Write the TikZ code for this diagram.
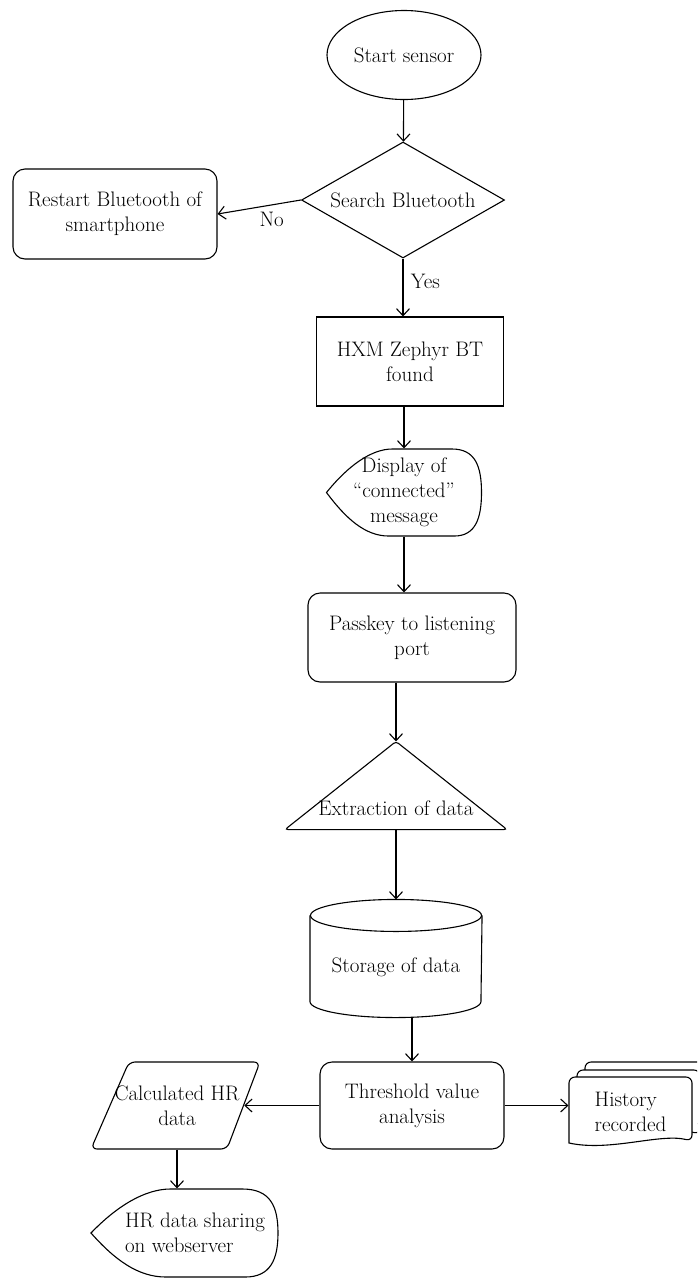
\documentclass[tikz,border=0pt]{standalone}
\usetikzlibrary{shapes.geometric, arrows.meta, calc, backgrounds}
\tikzset{
        startstop/.style={ellipse, draw, minimum width=154pt, minimum height=89pt, inner sep=0pt},
        decision/.style={diamond, draw, aspect=1.75, minimum width=203pt, minimum height=116pt, inner sep=0pt},
        block/.style={rectangle, draw, align=center, inner sep=2pt},
        roundblock/.style={block, rounded corners=12pt},
        shapebox/.style={rectangle, align=center, inner sep=0pt},
        arrow/.style={-{Straight Barb[length=7pt,width=13pt]}},
    }
% outline of a display symbol round a node: [x offset], name, half width, half height
\newcommand{\displayoutline}[4][0]{%
    \draw[shift={(#2.center)}, xshift=#1pt, x=#3pt, y=-#4pt]
        (-1,0) .. controls (-0.72,-0.62) and (-0.42,-1) .. (-0.15,-1) -- (0.62,-1)
        .. controls (0.92,-1) and (1,-0.6) .. (1,0)
        .. controls (1,0.6) and (0.92,1) .. (0.65,1) -- (-0.2,1)
        .. controls (-0.5,1) and (-0.75,0.6) .. (-1,0) -- cycle;}
% one page of the document stack, shifted from the history node
\newcommand{\docpage}[2]{%
    \draw[fill=white, line width=1.1pt, rounded corners=6pt, shift={(history.center)}, shift={(#1,#2)}]
        (-61.5,31) -- (-61.5,-35) -- (61.5,-35) -- (61.5,29)
        [sharp corners] .. controls (29.5,21) and (-20.5,40) .. (-61.5,31) -- cycle;}

\begin{document}
\begin{tikzpicture}[x=1pt, y=-1pt, line width=1.1pt, font=\fontsize{21}{25}\selectfont]
        \useasboundingbox (0,0) rectangle (697,1278);
        \clip (0,0) rectangle (697,1278);

        % START
        \node[startstop] (start) at (404,55) {Start sensor};

        % SEARCH
        \node[decision] (search) at (403,200) {Search Bluetooth};
        \node[roundblock, minimum width=204pt, minimum height=90pt] (restart) at (115,214) {Restart Bluetooth of\\smartphone};
        \node[block, minimum width=187pt, minimum height=89pt] (hxm) at (410,361.5) {HXM Zephyr BT\\found};

        % DISPLAY
        \node[shapebox, minimum width=155pt, minimum height=87pt] (display) at (404,492.5) {Display of\\“connected”\\message};
        \displayoutline{display}{77.5}{43.5}

        \node[roundblock, minimum width=208pt, minimum height=89pt] (passkey) at (412,637.5) {Passkey to listening\\port};

        % EXTRACTION
        \node[shapebox, minimum width=221pt, minimum height=87pt, label={[yshift=-22.5pt]center:Extraction of data}] (extract) at (396,785.5) {};
        \draw[rounded corners=3pt] (extract.south west) -- (extract.north) -- (extract.south east) -- cycle;

        % STORAGE
        \node[shapebox, minimum width=171pt, minimum height=117pt, label={[yshift=-8.5pt]center:Storage of data}] (storage) at (396,958.5) {};
        \draw ([yshift=-16pt]storage.north) ellipse [x radius=85.5pt, y radius=16pt];
        \draw ([yshift=-16pt]storage.north west) -- ([yshift=16pt]storage.south west)
            arc[start angle=180, end angle=360, x radius=85.5pt, y radius=16pt] -- ([yshift=-16pt]storage.north east);

        % THRESHOLD
        \node[roundblock, minimum width=184pt, minimum height=87pt] (threshold) at (412,1105.5) {Threshold value\\analysis};

        % HR DATA
        \node[shapebox, minimum width=133.5pt, minimum height=87pt] (calc) at (177,1105.5) {Calculated HR\\data};
        \draw[shift={(calc.center)}, rounded corners=6pt] (-48,-43.5) -- (83,-43.5) -- (50,43.5) -- (-86,43.5) -- cycle;
        \node[shapebox, minimum width=166pt, minimum height=88pt, align=left] (sharing) at (195,1233) {HR data sharing\\on webserver};
        \displayoutline[-10.5]{sharing}{93.5}{44}

        % HISTORY
        \node[shapebox, minimum width=123pt, minimum height=70pt, align=left] (history) at (630.5,1112) {History\\recorded};
        \begin{scope}[on background layer]
            \clip (0,0) rectangle (697,1278);
            \docpage{16}{-15}
            \docpage{8}{-7}
            \docpage{0}{0}
        \end{scope}

        % Arrows
        \draw[arrow] (start) -- (search);
        \draw[arrow] (search.west) -- (restart.east) node[pos=0.35, below=3pt] {No};
        \draw[arrow] (search.south) -- (search.south |- hxm.north) node[pos=0.4, right=4pt] {Yes};
        \draw[arrow] (hxm.south -| display.north) -- (display.north);
        \draw[arrow] (display.south) -- (display.south |- passkey.north);
        \draw[arrow] (passkey.south -| extract.north) -- (extract.north);
        \draw[arrow] (extract.south) -- (storage.north);
        \draw[arrow] (storage.south -| threshold.north) -- (threshold.north);
        \draw[arrow] (threshold.west) -- (calc.east);
        \draw[arrow] (threshold.east) -- (threshold.east -| history.west);
        \draw[arrow] (calc.south) -- (calc.south |- sharing.north);
    \end{tikzpicture}
\end{document}
